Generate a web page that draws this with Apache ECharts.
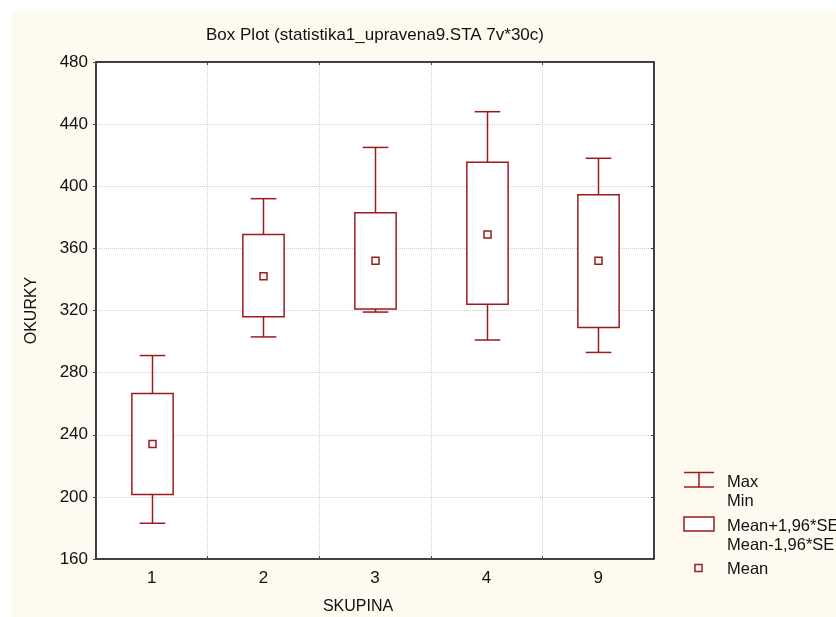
<!DOCTYPE html>
<html>
<head>
<meta charset="utf-8">
<script src="https://cdn.jsdelivr.net/npm/echarts@6/dist/echarts.min.js"></script>
<style>
  html, body { margin: 0; padding: 0; background: #ffffff; }
  #chart { position: absolute; left: 12px; top: 11px; width: 824px; height: 606px; }
</style>
</head>
<body>
<div id="chart"></div>
<script>
// skupiny a hodnoty
var categories = ['1', '2', '3', '4', '9'];
var minVals  = [183, 303, 319, 301, 293];
var loVals   = [201.5, 316, 321, 324, 309];
var meanVals = [234, 342, 352, 369, 352];
var hiVals   = [266.5, 369, 383, 415.5, 394.5];
var maxVals  = [291, 392, 425, 448, 418];
var yTicks   = { min: 160, max: 480, step: 40 };

var RED = '#9b1b1e';
var FONT = 'Liberation Sans, Arial, sans-serif';

var rows = categories.map(function (c, i) {
  return [i, minVals[i], loVals[i], meanVals[i], hiVals[i], maxVals[i]];
});

function renderBox(params, api) {
  var x = api.value(0);
  var pMin = api.coord([x, api.value(1)]);
  var pLo = api.coord([x, api.value(2)]);
  var pMean = api.coord([x, api.value(3)]);
  var pHi = api.coord([x, api.value(4)]);
  var pMax = api.coord([x, api.value(5)]);
  var catW = api.size([1, 0])[0];
  var boxW = catW * 0.37;
  var capW = catW * 0.23;
  var cx = Math.round(pMin[0]) + 0.5;
  var st = { stroke: RED, lineWidth: 1.5, fill: null };
  return {
    type: 'group',
    children: [
      { type: 'line', shape: { x1: cx, y1: pHi[1], x2: cx, y2: pMax[1] }, style: st },
      { type: 'line', shape: { x1: cx, y1: pLo[1], x2: cx, y2: pMin[1] }, style: st },
      { type: 'line', shape: { x1: cx - capW / 2, y1: pMax[1], x2: cx + capW / 2, y2: pMax[1] }, style: st },
      { type: 'line', shape: { x1: cx - capW / 2, y1: pMin[1], x2: cx + capW / 2, y2: pMin[1] }, style: st },
      { type: 'rect', shape: { x: cx - boxW / 2, y: pHi[1], width: boxW, height: pLo[1] - pHi[1] },
        style: { stroke: RED, lineWidth: 1.5, fill: '#ffffff' } },
      { type: 'rect', shape: { x: cx - 3.5, y: pMean[1] - 3.5, width: 7, height: 7 },
        style: { stroke: RED, lineWidth: 1.5, fill: '#ffffff' } }
    ]
  };
}

// legenda vpravo dole (souřadnice v rámci div)
var lx = 672, textX = 715;
var legendText = { fill: '#111', font: '16.5px ' + FONT, textVerticalAlign: 'middle' };
var legend = [
  { type: 'line', shape: { x1: lx, y1: 461.5, x2: lx + 30, y2: 461.5 }, style: { stroke: RED, lineWidth: 1.5 } },
  { type: 'line', shape: { x1: lx, y1: 476, x2: lx + 30, y2: 476 }, style: { stroke: RED, lineWidth: 1.5 } },
  { type: 'line', shape: { x1: lx + 15, y1: 461.5, x2: lx + 15, y2: 476 }, style: { stroke: RED, lineWidth: 1.5 } },
  { type: 'text', x: textX, y: 471.5, style: Object.assign({ text: 'Max' }, legendText) },
  { type: 'text', x: textX, y: 490, style: Object.assign({ text: 'Min' }, legendText) },
  { type: 'rect', shape: { x: lx, y: 506, width: 30, height: 14 }, style: { stroke: RED, lineWidth: 1.5, fill: '#fff' } },
  { type: 'text', x: textX, y: 515, style: Object.assign({ text: 'Mean+1,96*SE' }, legendText) },
  { type: 'text', x: textX, y: 534.5, style: Object.assign({ text: 'Mean-1,96*SE' }, legendText) },
  { type: 'rect', shape: { x: lx + 11, y: 553.5, width: 7, height: 7 }, style: { stroke: RED, lineWidth: 1.5, fill: '#fff' } },
  { type: 'text', x: textX, y: 558.5, style: Object.assign({ text: 'Mean' }, legendText) }
];

var chart = echarts.init(document.getElementById('chart'));

chart.setOption({
  backgroundColor: '#fefaf0',
  animation: false,
  textStyle: { fontFamily: FONT },
  title: {
    text: 'Box Plot (statistika1_upravena9.STA 7v*30c)',
    left: 358,
    textAlign: 'center',
    top: 11,
    textStyle: { fontSize: 17, fontWeight: 'normal', color: '#111', fontFamily: FONT }
  },
  grid: {
    left: 84, top: 51, width: 558, height: 497,
    outerBoundsMode: 'none',
    containLabel: false,
    show: true, backgroundColor: '#ffffff', borderColor: '#222', borderWidth: 1
  },
  xAxis: [{
    type: 'category',
    data: categories,
    boundaryGap: true,
    name: 'SKUPINA',
    nameLocation: 'middle',
    nameGap: 40,
    nameTextStyle: { fontSize: 16, color: '#111', padding: [0, 34, 0, 0] },
    axisLine: { lineStyle: { color: '#222', width: 1.5 } },
    axisTick: { show: true, inside: true, length: 3, lineStyle: { color: '#444' } },
    axisLabel: { fontSize: 17, color: '#111', margin: 11 },
    splitLine: { show: true, lineStyle: { color: '#cfcfcf', type: 'dotted', width: 1 } }
  }, {
    type: 'category',
    data: categories,
    position: 'top',
    boundaryGap: true,
    axisLine: { lineStyle: { color: '#222', width: 1.5 } },
    axisTick: { show: true, inside: true, length: 3, lineStyle: { color: '#444' } },
    axisLabel: { show: false },
    splitLine: { show: false }
  }],
  yAxis: [{
    type: 'value',
    min: yTicks.min, max: yTicks.max, interval: yTicks.step,
    name: 'OKURKY',
    nameLocation: 'middle',
    nameRotate: 90,
    nameGap: 56,
    nameTextStyle: { fontSize: 16, color: '#111' },
    axisLine: { show: true, lineStyle: { color: '#222', width: 1.5 } },
    axisTick: { show: true, length: 3, lineStyle: { color: '#444' } },
    axisLabel: { fontSize: 17, color: '#111', margin: 8 },
    splitLine: { show: true, lineStyle: { color: '#cfcfcf', type: 'dotted', width: 1 } }
  }, {
    type: 'value',
    position: 'right',
    min: yTicks.min, max: yTicks.max, interval: yTicks.step,
    axisLine: { show: true, lineStyle: { color: '#222', width: 1.5 } },
    axisTick: { show: true, inside: true, length: 3, lineStyle: { color: '#444' } },
    axisLabel: { show: false },
    splitLine: { show: false }
  }],
  graphic: legend,
  series: [{
    type: 'custom',
    name: 'OKURKY',
    renderItem: renderBox,
    encode: { x: 0, y: [1, 2, 3, 4, 5] },
    data: rows,
    z: 5
  }]
});
</script>
</body>
</html>
